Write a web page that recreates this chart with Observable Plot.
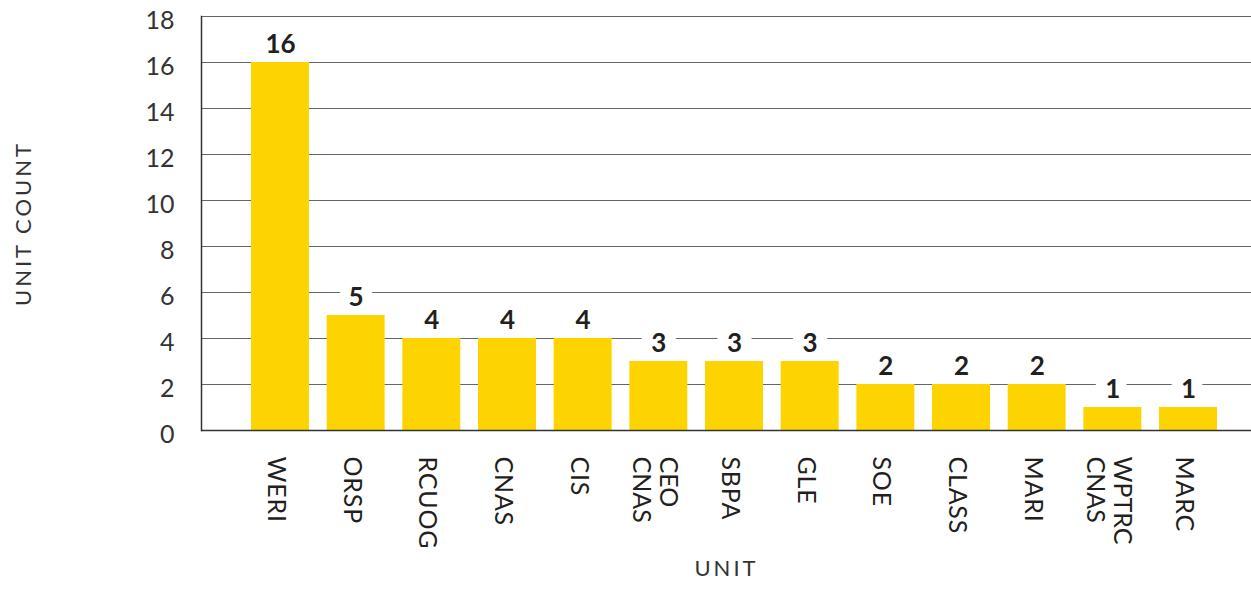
<!DOCTYPE html>
<html><head><meta charset="utf-8">
<script src="https://cdn.jsdelivr.net/npm/d3@7"></script>
<script src="https://cdn.jsdelivr.net/npm/@observablehq/plot@0.6"></script>
<style>
body{margin:0;background:#fff;}
svg{display:block;}
</style>
</head><body>
<div id="chart"></div>
<script>
const units = ["WERI","ORSP","RCUOG","CNAS","CIS","CEO\nCNAS","SBPA","GLE","SOE","CLASS","MARI","WPTRC\nCNAS","MARC"];
const counts = [16,5,4,4,4,3,3,3,2,2,2,1,1];
const yTicks = [0,2,4,6,8,10,12,14,16,18];
const xTitle = "UNIT";
const yTitle = "UNIT COUNT";

const data = units.map((u,i)=>({unit:u, count:counts[i]}));
const font = "Lato, 'Noto Sans', sans-serif";

const chart = Plot.plot({
  width: 1251, height: 591,
  marginLeft: 201, marginRight: 0, marginTop: 16, marginBottom: 161,
  style: {fontFamily: font, background: "#fff"},
  x: {domain: units, range: [251, 1217], paddingInner: 0.234, paddingOuter: 0, round: false, axis: null},
  y: {domain: [0, 18], axis: null},
  marks: [
    Plot.ruleY(yTicks.filter(d=>d>0), {stroke: "#666", strokeWidth: 1.2}),
    Plot.frame({anchor: "left", stroke: "#333", strokeWidth: 1.5}),
    Plot.text(yTicks, {y: d=>d, frameAnchor: "left", dx: -27, dy: 4, textAnchor: "end", text: d=>String(d), fontSize: 25, fill: "#333"}),
    Plot.text(data, {x: "unit", y: "count", text: d=>String(d.count), dy: -18, lineAnchor: "middle", fontSize: 26, fontWeight: "bold", fill: "#231f20", stroke: "#fff", strokeWidth: 22, strokeLinejoin: "round", paintOrder: "stroke"}),
    Plot.barY(data, {x: "unit", y: "count", fill: "#FDD400"}),
    Plot.ruleY([0], {stroke: "#333", strokeWidth: 1.5}),
    Plot.text(units, {x: d=>d, frameAnchor: "bottom", rotate: 90, textAnchor: "start", lineAnchor: "middle", dy: 26, dx: -4, text: d=>d, fontSize: 25, fill: "#231f20", lineHeight: 1.05}),
    Plot.text([xTitle], {frameAnchor: "bottom", dy: 145, text: d=>d, fontSize: 22, fill: "#333"}),
    Plot.text([yTitle], {frameAnchor: "left", dx: -178, rotate: -90, textAnchor: "middle", text: d=>d, fontSize: 22, fill: "#333"})
  ]
});
chart.querySelectorAll('text').forEach(t=>{
  if (t.textContent === xTitle || t.textContent === yTitle) t.setAttribute("letter-spacing","3");
  else if (units.includes(t.textContent) || /^(CEO|CNAS|WPTRC)$/.test(t.textContent)) t.setAttribute("letter-spacing","0.8");
});
document.getElementById("chart").appendChild(chart);
</script>
</body></html>
